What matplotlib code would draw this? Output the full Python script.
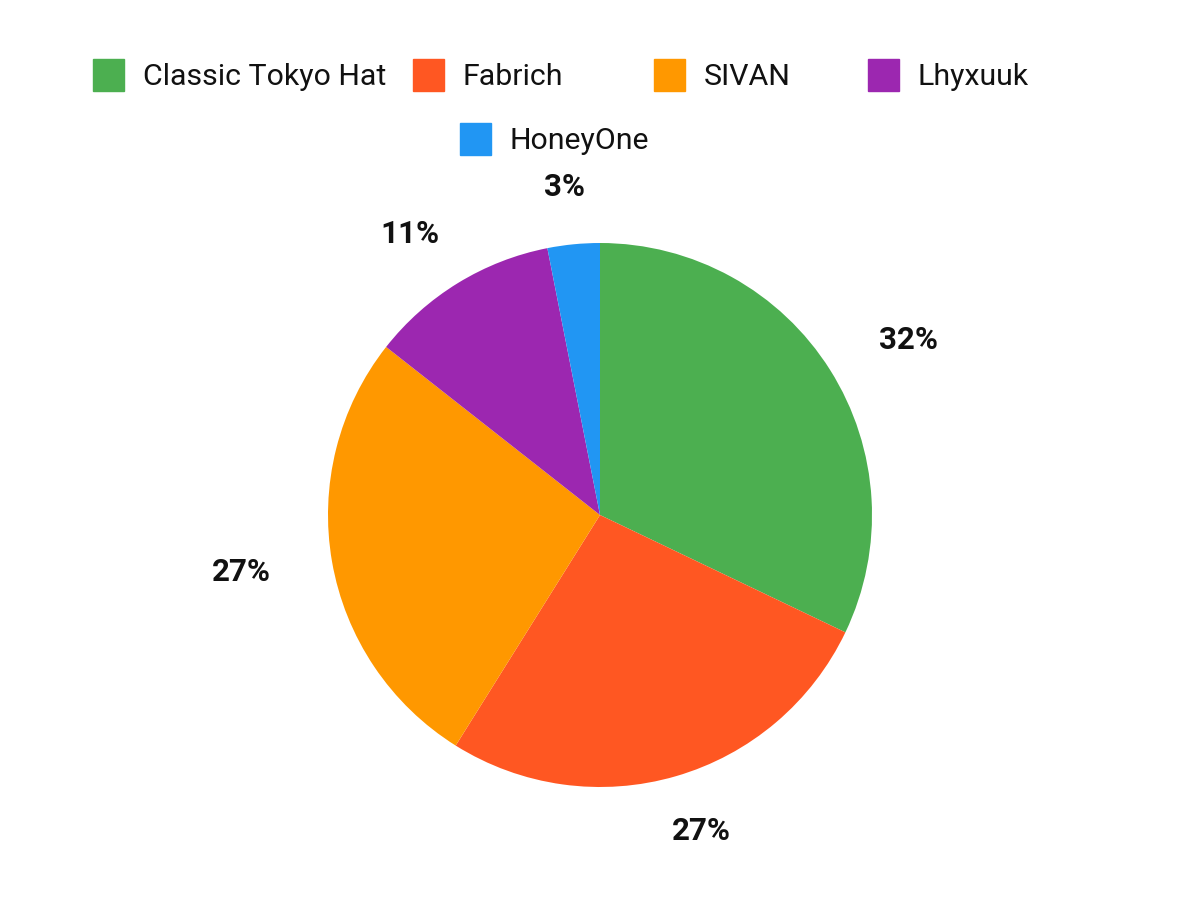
import numpy as np
import matplotlib.pyplot as plt
from matplotlib.patches import Rectangle

# brand share (percent)
brands = ['Classic Tokyo Hat', 'Fabrich', 'SIVAN', 'Lhyxuuk', 'HoneyOne']
shares = [32.1, 26.8, 26.7, 11.3, 3.1]
colors = ['#4CAF50', '#FF5722', '#FF9800', '#9C27B0', '#2196F3']

plt.rcParams['font.family'] = ['Roboto', 'DejaVu Sans']

W, H = 1200, 900
R = 272.0          # pie radius in px
cx, cy = 600, 515  # pie centre in px (from top)

fig = plt.figure(figsize=(12, 9), dpi=100)
ax = fig.add_axes([0, 0, 1, 1])

wedges, _ = ax.pie(shares, colors=colors, startangle=90, counterclock=False,
                   radius=1, center=(0, 0), wedgeprops=dict(linewidth=0))

# percentage labels just outside each wedge
total = sum(shares)
for w, v in zip(wedges, shares):
    th = np.deg2rad((w.theta1 + w.theta2) / 2)
    c, s = np.cos(th), np.sin(th)
    x = 1.19 * c + 0.15 * c
    y = 1.17 * s + 0.04 * s
    ax.text(x, y, f'{round(v / total * 100)}%', ha='center', va='center',
            fontsize=22.5, fontweight='bold', color='#111111')

ax.set_xlim(-cx / R, (W - cx) / R)
ax.set_ylim(-(H - cy) / R, cy / R)
ax.set_aspect('equal')
ax.axis('off')

# legend drawn by hand (two rows, second row centred)
leg_pos = [(93, 75), (413, 75), (654, 75), (868, 75), (460, 139)]
for (lx, ly), name, col in zip(leg_pos, brands, colors):
    sq = 31
    fig.patches.append(Rectangle((lx / W, 1 - (ly + sq / 2) / H), sq / W, sq / H,
                                 transform=fig.transFigure, color=col))
    fig.text((lx + 50) / W, 1 - (ly + 2) / H, name, ha='left', va='center',
             fontsize=21.8, color='#111111')

fig.savefig('out.png', dpi=100, facecolor='white')
